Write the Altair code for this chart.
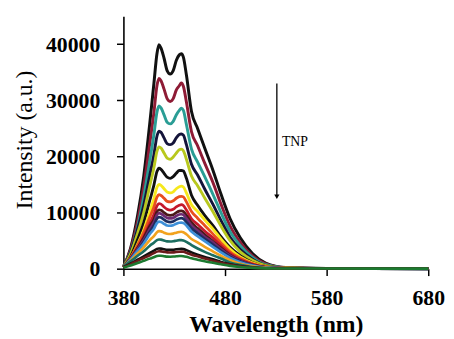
import altair as alt
import pandas as pd

wavelength = [380, 387, 394, 400, 406, 410, 413, 415, 417, 420, 423, 426, 429, 432, 435,
              437, 439, 442, 447, 453, 460, 468, 476, 485, 495, 507, 520, 540, 580, 680]

s01 = [300, 3600, 9500, 16500, 26000, 33000, 38300, 39900, 39300, 37500, 35300, 34700, 35300, 37100, 38100,
       38300, 37700, 34500, 28000, 25000, 21500, 17600, 13300, 8900, 5500, 2700, 1000, 200, 40, 0]
s02 = [300, 3400, 8500, 14600, 22400, 27800, 32600, 33900, 33500, 32000, 30300, 29800, 30300, 31800, 32600,
       33100, 32500, 29700, 24400, 21900, 18800, 15400, 11500, 7600, 4700, 2300, 850, 170, 30, 0]
s03 = [300, 3000, 7500, 12800, 19300, 23900, 27900, 29000, 28650, 27400, 26100, 25800, 26250, 27400, 28200,
       28600, 28200, 25700, 21300, 19000, 16400, 13300, 10000, 6600, 4100, 2000, 700, 150, 30, 0]
s04 = [370, 2900, 7100, 11300, 16700, 20300, 23600, 24500, 24300, 23300, 22300, 22100, 22400, 23300, 23900,
       24000, 23800, 22100, 18600, 16700, 14200, 11500, 8600, 5600, 3400, 1700, 600, 150, 25, 0]
s05 = [330, 2600, 6300, 10000, 14800, 18000, 20900, 21700, 21500, 20600, 19700, 19500, 19900, 20600, 21200,
       21300, 21000, 19500, 16500, 14800, 12600, 10200, 7600, 5000, 3000, 1500, 540, 130, 20, 0]
s06 = [270, 2100, 5200, 8200, 12200, 14900, 17300, 17900, 17700, 17000, 16300, 16100, 16400, 17000, 17500,
       17500, 17400, 16100, 13100, 11300, 9500, 7700, 5700, 3800, 2300, 1100, 400, 100, 20, 0]
s07 = [230, 1800, 4400, 6900, 10200, 12500, 14500, 15000, 14850, 14250, 13650, 13500, 13700, 14250, 14600,
       14700, 14550, 13500, 11400, 10200, 8700, 7100, 5300, 3500, 2100, 1050, 380, 90, 15, 0]
s08 = [330, 2000, 4200, 6500, 9200, 11000, 12750, 13200, 13050, 12550, 12000, 11900, 12100, 12550, 12850,
       12900, 12800, 11900, 10200, 9000, 7700, 6200, 4600, 3000, 1850, 900, 320, 80, 15, 0]
s09 = [290, 1700, 3700, 5700, 8100, 9650, 11200, 11600, 11500, 11000, 10600, 10450, 10600, 11000, 11300,
       11400, 11250, 10450, 8900, 7900, 6700, 5500, 4100, 2700, 1600, 790, 280, 70, 10, 0]
s10 = [320, 1800, 3700, 5500, 7600, 8750, 10150, 10500, 10400, 10000, 9600, 9500, 9600, 10000, 10250,
       10300, 10200, 9500, 8200, 7200, 6100, 4900, 3700, 2400, 1450, 700, 240, 60, 10, 0]
s11 = [300, 1700, 3500, 5100, 7100, 8250, 9550, 9900, 9800, 9400, 9050, 8950, 9050, 9400, 9650,
       9700, 9600, 8950, 7700, 6800, 5700, 4700, 3500, 2300, 1400, 650, 230, 60, 10, 0]
s12 = [280, 1600, 3200, 4800, 6600, 7700, 8900, 9200, 9100, 8750, 8400, 8300, 8400, 8750, 8950,
       9000, 8900, 8300, 7200, 6300, 5300, 4300, 3200, 2100, 1300, 600, 210, 55, 10, 0]
s13 = [340, 1600, 3200, 4500, 6200, 7100, 8120, 8400, 8330, 8000, 7700, 7650, 7750, 8000, 8180,
       8200, 8130, 7700, 6600, 5800, 4900, 3900, 2900, 1900, 1130, 540, 180, 40, 10, 0]
s14 = [340, 1400, 2700, 3800, 5100, 5800, 6500, 6700, 6650, 6420, 6220, 6180, 6250, 6420, 6540,
       6580, 6500, 6130, 5300, 4700, 3900, 3100, 2300, 1500, 870, 420, 140, 30, 10, 0]
s15 = [360, 1300, 2300, 3100, 4100, 4630, 5100, 5200, 5170, 5020, 4860, 4840, 4890, 4990, 5090,
       5100, 5040, 4780, 4200, 3600, 3000, 2400, 1800, 1100, 680, 310, 100, 40, 20, 10]
s16 = [250, 900, 1600, 2200, 2800, 3200, 3530, 3600, 3580, 3470, 3370, 3350, 3380, 3460, 3520,
       3530, 3490, 3310, 2900, 2500, 2100, 1700, 1200, 800, 470, 220, 80, 40, 20, 10]
s17 = [220, 780, 1400, 1900, 2400, 2760, 3040, 3100, 3080, 2990, 2900, 2880, 2910, 2980, 3030,
       3040, 3010, 2850, 2500, 2200, 1800, 1400, 1050, 680, 400, 190, 70, 40, 20, 10]
s18 = [160, 580, 1000, 1400, 1800, 2050, 2250, 2300, 2290, 2220, 2150, 2140, 2160, 2210, 2250,
       2250, 2230, 2120, 1840, 1600, 1330, 1060, 780, 500, 300, 140, 60, 40, 20, 10]

series = [s01, s02, s03, s04, s05, s06, s07, s08, s09, s10, s11, s12,
          s13, s14, s15, s16, s17, s18]
names = ["c%02d" % (i + 1) for i in range(len(series))]
colors = ["#111111", "#8e1b35", "#2a9d95", "#14143a", "#b8c81e", "#111111",
          "#f6e81c", "#e8501e", "#c4182c", "#4a1818", "#6e2a70", "#1e2d5e",
          "#3d8fd8", "#f2a21e", "#1c6e60", "#111111", "#6a1a1a", "#1c7a30"]
widths = [3.0] + [2.6] * (len(series) - 1)

x_ticks = [380, 480, 580, 680]
y_ticks = [0, 10000, 20000, 30000, 40000]

# annotation (arrow and label) in data coordinates
arrow_wl = 531
arrow_top = 33000
arrow_bottom = 12800
label_wl = 536
label_int = 22500
label_text = "TNP"

rows = []
for name, vals in zip(names, series):
    for w, v in zip(wavelength, vals):
        rows.append({"wavelength": w, "intensity": v, "curve": name})
df = pd.DataFrame(rows)

FONT = "Liberation Serif"

x_scale = alt.Scale(domain=[380, 680], nice=False)
y_scale = alt.Scale(domain=[0, 45000], nice=False)

x_axis = alt.Axis(values=x_ticks, title="Wavelength (nm)", grid=False,
                  labelFont=FONT, labelFontSize=22, labelFontWeight="bold",
                  labelColor="black", labelFlush=False, labelPadding=12,
                  titleFont=FONT, titleFontSize=24, titleFontWeight="bold",
                  titleColor="black", titleBaseline="alphabetic", titleY=64,
                  tickSize=7, tickWidth=1.5, tickColor="black",
                  domainColor="black", domainWidth=1.6)
y_axis = alt.Axis(values=y_ticks, format="d", title="Intensity (a.u.)", grid=False,
                  labelFont=FONT, labelFontSize=22, labelFontWeight="bold",
                  labelColor="black", labelPadding=17, labelFlush=False,
                  titleFont=FONT, titleFontSize=24, titleFontWeight="normal",
                  titleColor="black", titleAngle=270, titleX=-100, titleY=125,
                  titleAlign="center", titleBaseline="middle",
                  tickSize=7, tickWidth=1.5, tickColor="black",
                  domainColor="black", domainWidth=1.6)

lines = alt.Chart(df).mark_line(interpolate="monotone").encode(
    x=alt.X("wavelength:Q", scale=x_scale, axis=x_axis),
    y=alt.Y("intensity:Q", scale=y_scale, axis=y_axis),
    color=alt.Color("curve:N", scale=alt.Scale(domain=names, range=colors), legend=None),
    strokeWidth=alt.StrokeWidth("curve:N", scale=alt.Scale(domain=names, range=widths), legend=None),
    order=alt.Order("wavelength:Q"),
)

arrow_df = pd.DataFrame({"wavelength": [arrow_wl], "intensity": [arrow_top],
                         "intensity2": [arrow_bottom]})
rule = alt.Chart(arrow_df).mark_rule(color="black", strokeWidth=1.3).encode(
    x=alt.X("wavelength:Q", scale=x_scale),
    y=alt.Y("intensity:Q", scale=y_scale),
    y2="intensity2:Q",
)
head_df = pd.DataFrame({"wavelength": [arrow_wl], "intensity": [arrow_bottom]})
head = alt.Chart(head_df).mark_point(shape="triangle-down", filled=True, size=28,
                                     color="black", opacity=1).encode(
    x=alt.X("wavelength:Q", scale=x_scale),
    y=alt.Y("intensity:Q", scale=y_scale),
)
label_df = pd.DataFrame({"wavelength": [label_wl], "intensity": [label_int],
                         "text": [label_text]})
label = alt.Chart(label_df).mark_text(align="left", baseline="middle", font=FONT,
                                      fontSize=14, color="black").encode(
    x=alt.X("wavelength:Q", scale=x_scale),
    y=alt.Y("intensity:Q", scale=y_scale),
    text="text:N",
)

chart = alt.layer(lines, rule, head, label).properties(
    width=309, height=256,
    autosize=alt.AutoSizeParams(type="none"),
    padding={"left": 117, "top": 6, "right": 18, "bottom": 68},
    background="white",
).configure_view(stroke=None)

chart.save("out.html", embed_options={"renderer": "svg", "actions": False})
